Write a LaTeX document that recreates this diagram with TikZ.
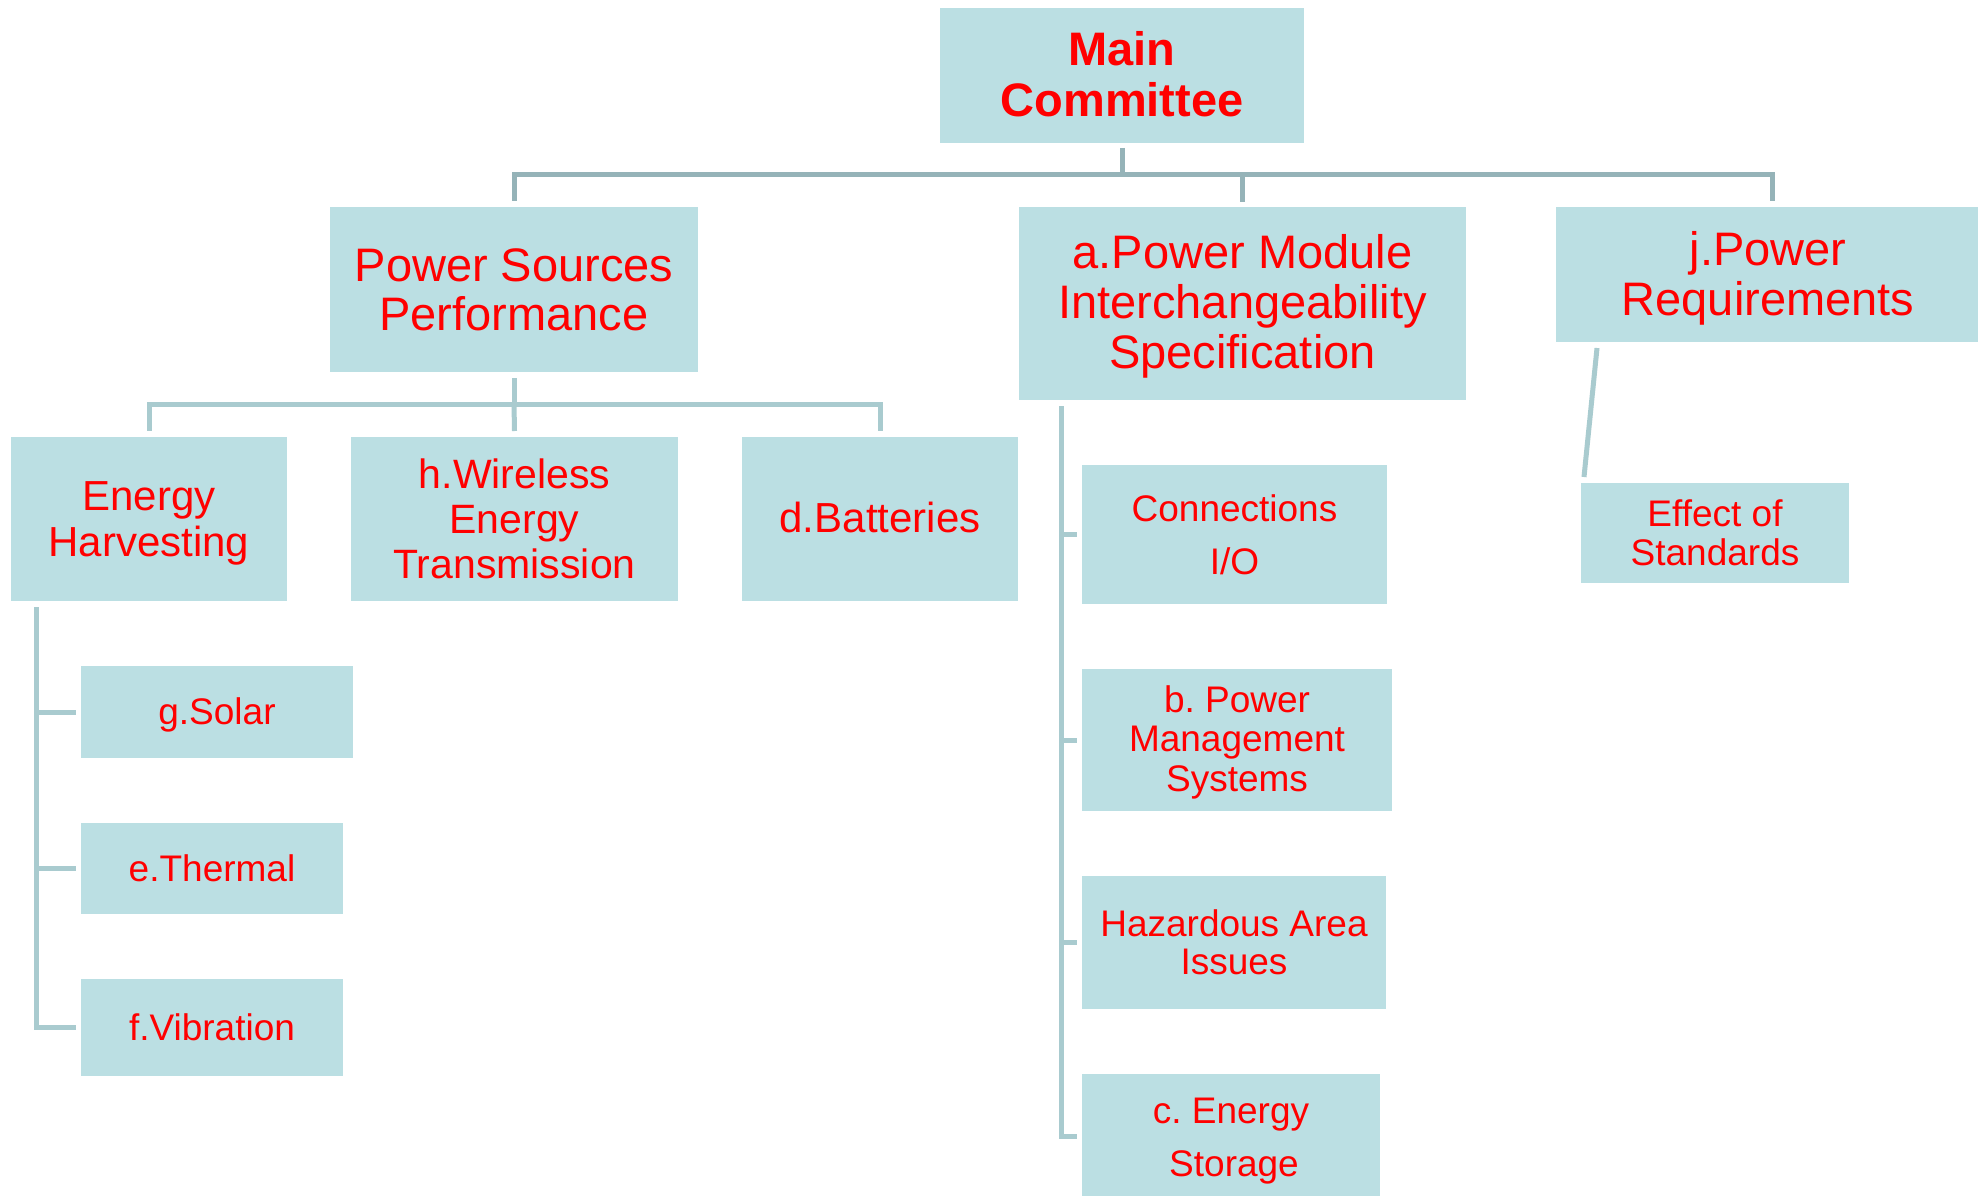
\documentclass[tikz,border=0pt]{standalone}
\usepackage{fontspec}
\setmainfont{Liberation Sans}
\frenchspacing
\definecolor{boxfill}{HTML}{BBDFE3}
\definecolor{txtred}{HTML}{FF0000}
\definecolor{topln}{HTML}{95B3B8}
\definecolor{subln}{HTML}{A9CBCF}
\newcommand{\dn}[2]{\raisebox{-#1}[\height][\depth]{#2}}
\tikzset{
  box/.style={rectangle, fill=boxfill, draw=none, inner sep=0pt, outer sep=0pt,
    align=center, text=txtred},
  fbig/.style={font=\fontsize{47pt}{49pt}\selectfont},
  fmid/.style={font=\fontsize{42pt}{46pt}\selectfont},
  fsml/.style={font=\fontsize{37pt}{38.5pt}\selectfont},
  fsmlw/.style={font=\fontsize{37pt}{53pt}\selectfont},
  topline/.style={draw=topln, line width=5pt},
  subline/.style={draw=subln, line width=5pt},
}
\begin{document}
\begin{tikzpicture}[x=1pt,y=-1pt]
\fill[white] (0,0) rectangle (1978,1196);
\useasboundingbox (0,0) rectangle (1978,1196);

% level 0
\node[box, font=\fontsize{47pt}{48pt}\selectfont\bfseries, minimum width=364pt, minimum height=135pt] (main) at (1122,75.5) {\dn{-3pt}{Main}\\Committee};

% level 1
\node[box, fbig, minimum width=368pt, minimum height=165pt] (psp) at (514,289.5) {Power Sources\\Performance};
\node[box, font=\fontsize{47pt}{50pt}\selectfont, minimum width=447pt, minimum height=193pt] (apm) at (1242.5,303.5) {\dn{3pt}{a.Power Module}\\\dn{3pt}{Interchangeability}\\\dn{3pt}{Specification}};
\node[box, font=\fontsize{47pt}{50pt}\selectfont, minimum width=424pt, minimum height=135pt] (jp) at (1768,274.5) {\dn{4pt}{j.Power}\\\dn{4pt}{Requirements}};

% level 2 under Power Sources
\node[box, fmid, minimum width=276pt, minimum height=164pt] (eh) at (149,519) {\dn{4pt}{Energy}\\\dn{4pt}{Harvesting}};
\node[box, font=\fontsize{41pt}{45pt}\selectfont, minimum width=327pt, minimum height=164pt] (hw) at (514.5,519) {h.Wireless\\Energy\\Transmission};
\node[box, fmid, minimum width=276pt, minimum height=164pt] (db) at (880,519) {\dn{-2pt}{d.Batteries}};

% energy harvesting children
\node[box, fsml, minimum width=272pt, minimum height=92pt] (solar) at (217,712) {\dn{3pt}{g.Solar}};
\node[box, fsml, minimum width=262pt, minimum height=91pt] (thermal) at (212,868.5) {e.Thermal};
\node[box, fsml, minimum width=262pt, minimum height=97pt] (vib) at (212,1027.5) {f.Vibration};

% power module children
\node[box, fsmlw, minimum width=305pt, minimum height=139pt] (conn) at (1234.5,534.5) {Connections\\I/O};
\node[box, font=\fontsize{37pt}{39.5pt}\selectfont, minimum width=310pt, minimum height=142pt] (bpm) at (1237,740) {\dn{2pt}{b. Power}\\\dn{2pt}{Management}\\\dn{2pt}{Systems}};
\node[box, fsml, minimum width=304pt, minimum height=133pt] (haz) at (1234,942.5) {Hazardous Area\\Issues};
\node[box, fsmlw, minimum width=298pt, minimum height=124pt] (ces) at (1231,1136) {\dn{5pt}{c. Energy}\\\dn{5pt}{\hspace*{6pt}Storage}};

% power requirements child
\node[box, fsml, minimum width=268pt, minimum height=100pt] (eff) at (1715,533) {Effect of\\Standards};

% top tree
\coordinate (j1) at (1122,174);
\draw[topline] ([yshift=-5pt]main.south) -- (j1);
\draw[topline] (j1) -| ([yshift=6pt]psp.north);
\draw[topline] (j1) -| ([yshift=5pt]apm.north);
\draw[topline] (j1) -| ([xshift=4pt,yshift=6pt]jp.north);

% second tree
\coordinate (j2) at (514,404);
\draw[subline] ([yshift=-6pt]psp.south) -- (j2);
\draw[subline] (j2) -| ([yshift=6pt]eh.north);
\draw[subline] (j2) -- ([yshift=6pt]hw.north);
\draw[subline] (j2) -| ([yshift=6pt]db.north);

% energy harvesting trunk
\coordinate (ehs) at (36,607);
\draw[subline] (ehs) |- ([xshift=-5pt]vib.west);
\draw[subline] (ehs |- solar.west) -- ([xshift=-5pt]solar.west);
\draw[subline] (ehs |- thermal.west) -- ([xshift=-5pt]thermal.west);

% power module trunk
\coordinate (apms) at (1061,406);
\draw[subline] (apms) |- ([xshift=-5pt]ces.west);
\draw[subline] (apms |- conn.west) -- ([xshift=-5pt]conn.west);
\draw[subline] (apms |- bpm.west) -- ([xshift=-5pt]bpm.west);
\draw[subline] (apms |- haz.west) -- ([xshift=-5pt]haz.west);

% power requirements link
\draw[subline] ([xshift=41pt,yshift=-6pt]jp.south west) -- ([xshift=3pt,yshift=6pt]eff.north west);
\end{tikzpicture}
\end{document}
